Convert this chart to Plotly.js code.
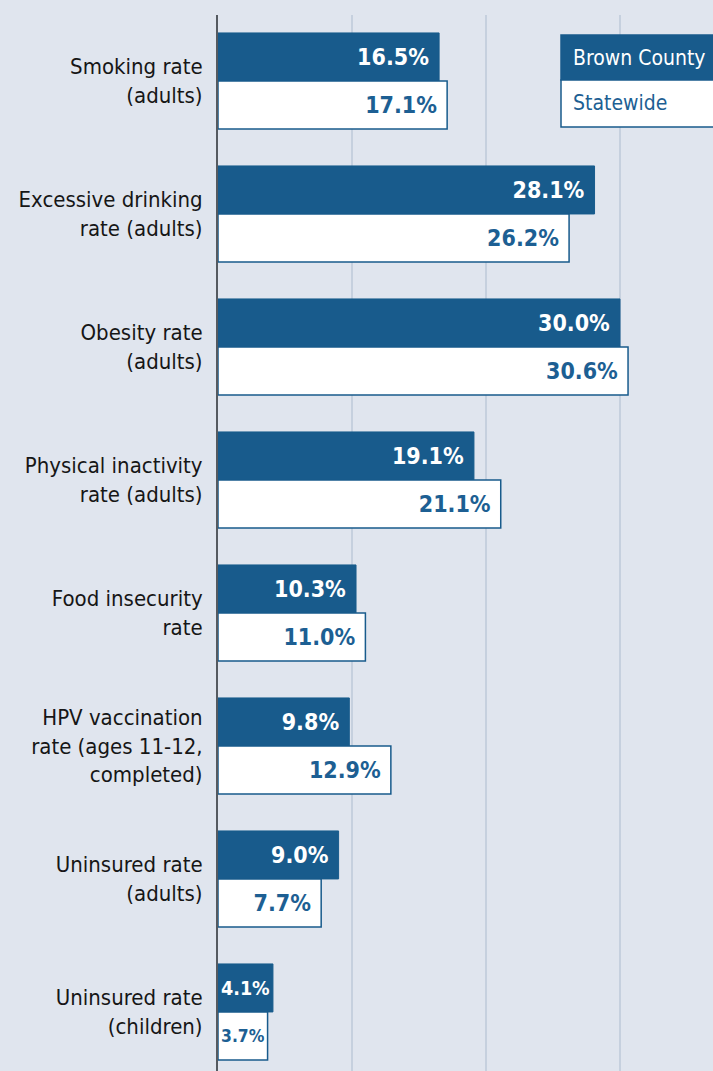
<!DOCTYPE html>
<html>
<head>
<meta charset="utf-8">
<script src="https://cdn.plot.ly/plotly-3.0.1.min.js"></script>
<style>
html,body{margin:0;padding:0;background:#e0e5ee;}
#chart{width:713px;height:1071px;}
</style>
</head>
<body>
<div id="chart"></div>
<script>
// ---- data ----
const categories = [
  "Smoking rate<br>(adults)",
  "Excessive drinking<br>rate (adults)",
  "Obesity rate<br>(adults)",
  "Physical inactivity<br>rate (adults)",
  "Food insecurity<br>rate",
  "HPV vaccination<br>rate (ages 11-12,<br>completed)",
  "Uninsured rate<br>(adults)",
  "Uninsured rate<br>(children)"
];
const brownCounty = [16.5, 28.1, 30.0, 19.1, 10.3, 9.8, 9.0, 4.1];
const statewide   = [17.1, 26.2, 30.6, 21.1, 11.0, 12.9, 7.7, 3.7];
const seriesNames = ["Brown County", "Statewide"];

// ---- styles ----
const DARK = "#185b8c";
const BLUE_TXT = "#1d5f93";
const BG = "#e0e5ee";
const FONT = "'DejaVu Sans Condensed', 'Liberation Sans Narrow', sans-serif";

const pos = categories.map((_, i) => i);
// trailing space acts as right padding, dropped on very short bars so the label keeps its size
const fmt = v => v.toFixed(1) + "%" + (v >= 6 ? "\u00a0" : "");

const traces = [
  {
    type: "bar", orientation: "h", name: seriesNames[0],
    y: pos, x: brownCounty,
    text: brownCounty.map(fmt),
    textposition: "inside", insidetextanchor: "end",
    textfont: {family: FONT, size: 23, color: "#ffffff", weight: "bold"},
    marker: {color: DARK, line: {color: DARK, width: 1}},
    hoverinfo: "skip", cliponaxis: false
  },
  {
    type: "bar", orientation: "h", name: seriesNames[1],
    y: pos, x: statewide,
    text: statewide.map(fmt),
    textposition: "inside", insidetextanchor: "end",
    textfont: {family: FONT, size: 23, color: BLUE_TXT, weight: "bold"},
    marker: {color: "#ffffff", line: {color: DARK, width: 1.5}},
    hoverinfo: "skip", cliponaxis: false
  }
];

const plotLeft = 218, plotW = 713 - plotLeft, plotTop = 15, plotH = 1071 - plotTop;
const pxX = px => (px - plotLeft) / plotW;
const pxY = py => 1 - (py - plotTop) / plotH;

const layout = {
  width: 713, height: 1071,
  margin: {l: plotLeft, r: 0, t: plotTop, b: 0, pad: 0},
  paper_bgcolor: BG, plot_bgcolor: BG,
  showlegend: false,
  barmode: "group", bargap: 0.278, bargroupgap: 0,
  xaxis: {
    range: [0, 36.94], dtick: 10, tick0: 0,
    showgrid: true, gridcolor: "#c6d0de", gridwidth: 1.5,
    zeroline: false, showticklabels: false, ticks: "", showline: false, fixedrange: true
  },
  yaxis: {
    range: [7.444, -0.496],
    tickvals: pos, ticktext: categories,
    showgrid: false, zeroline: false,
    showline: true, linecolor: "#555a60", linewidth: 2,
    ticks: "outside", ticklen: 9, tickcolor: "rgba(0,0,0,0)",
    tickfont: {family: FONT, size: 22, color: "#161616"},
    fixedrange: true
  },
  shapes: [
    {type: "rect", xref: "paper", yref: "paper", x0: pxX(561), x1: pxX(740), y0: pxY(80), y1: pxY(35),
     fillcolor: DARK, line: {color: DARK, width: 1.5}, layer: "above"},
    {type: "rect", xref: "paper", yref: "paper", x0: pxX(561), x1: pxX(740), y0: pxY(127), y1: pxY(80),
     fillcolor: "#ffffff", line: {color: DARK, width: 1.5}, layer: "above"}
  ],
  annotations: [
    {xref: "paper", yref: "paper", x: pxX(571), y: pxY(57.5), xanchor: "left", yanchor: "middle",
     text: seriesNames[0], showarrow: false,
     font: {family: FONT, size: 21, color: "#ffffff"}},
    {xref: "paper", yref: "paper", x: pxX(571), y: pxY(103.5), xanchor: "left", yanchor: "middle",
     text: seriesNames[1], showarrow: false,
     font: {family: FONT, size: 21, color: BLUE_TXT}}
  ]
};

Plotly.newPlot("chart", traces, layout, {displayModeBar: false, staticPlot: true});
</script>
</body>
</html>
